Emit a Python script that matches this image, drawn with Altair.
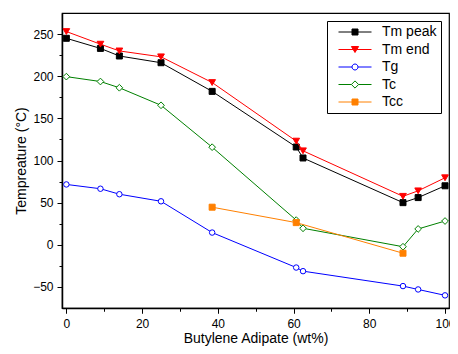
import altair as alt
import pandas as pd

# ---- data ----
series_names = ["Tm peak", "Tm end", "Tg", "Tc", "Tcc"]
x_main = [0, 9, 14, 25, 38.5, 60.7, 62.5, 88.9, 92.9, 100]
tm_peak = [245, 233, 224, 216, 182, 116, 103, 50, 56, 70]
tm_end = [253, 238, 230, 223, 192.5, 123, 111.5, 57.5, 64, 79.5]
tg = [71.6, 66.5, 60, 51.6, 14.5, -27, -31.3, -49, -53, -60]
tc = [199.5, 193.7, 186.3, 165.5, 115.8, 29.3, 19.6, -2.3, 18.8, 28.2]
x_tcc = [38.5, 60.7, 88.9]
tcc = [44.6, 26.3, -10]

x_ticks = [0, 10, 20, 30, 40, 50, 60, 70, 80, 90, 100]
y_ticks = [-50, -25, 0, 25, 50, 75, 100, 125, 150, 175, 200, 225, 250]

# ---- styles ----
colors = ["#000000", "#FF0000", "#0000FF", "#008000", "#FF8000"]
fills = ["#000000", "#FF0000", "#FFFFFF", "#FFFFFF", "#FF8000"]
shapes = ["square", "triangle-down", "circle", "diamond", "square"]
sizes = [36, 45, 30, 45, 36]
legend_paths = [
    "M-5.5,0H-1M1,0H5.5M-1,-1H1V1H-1Z",
    "M-5.5,0H-0.6M0.6,0H5.5M-1.2,-1H1.2L0,1Z",
    "M-5.5,0H-1M1,0H5.5M-1,0A1,1,0,1,0,1,0A1,1,0,1,0,-1,0Z",
    "M-5.5,0H-1.2M1.2,0H5.5M0,-1.2L1.2,0L0,1.2L-1.2,0Z",
    "M-5.5,0H-1M1,0H5.5M-1,-1H1V1H-1Z",
]

rows = []
for name, xs, ys in [
    ("Tm peak", x_main, tm_peak),
    ("Tm end", x_main, tm_end),
    ("Tg", x_main, tg),
    ("Tc", x_main, tc),
    ("Tcc", x_tcc, tcc),
]:
    for xv, yv in zip(xs, ys):
        rows.append({"series": name, "x": xv, "y": yv})
df = pd.DataFrame(rows)

FONT = "Liberation Sans"
W, H = 387, 295

xscale = alt.Scale(domain=[-1.15, 101.05], nice=False, zero=False)
yscale = alt.Scale(domain=[-75, 275], nice=False, zero=False)

x_tick_size = {"condition": {"test": "datum.value % 20 === 0", "value": 5}, "value": 3}
y_tick_size = {"condition": {"test": "datum.value % 50 === 0", "value": 5}, "value": 3}

x_axis_main = alt.Axis(
    values=x_ticks, tickSize=x_tick_size,
    labelExpr="datum.value % 20 === 0 ? datum.label : ''",
    grid=False, domainColor="black", domainWidth=1.5, tickColor="black", tickWidth=1,
    labelFont=FONT, labelFontSize=12, labelColor="black", labelPadding=5,
    labelFlush=False, labelOverlap=False,
    title="Butylene Adipate (wt%)", titleFont=FONT, titleFontSize=14,
    titleFontWeight="normal", titleColor="black", titlePadding=2,
)
y_axis_main = alt.Axis(
    values=y_ticks, tickSize=y_tick_size,
    labelExpr="datum.value % 50 === 0 ? datum.label : ''",
    grid=False, domainColor="black", domainWidth=1.5, tickColor="black", tickWidth=1,
    labelFont=FONT, labelFontSize=12, labelColor="black", labelPadding=4,
    labelFlush=False, labelOverlap=False,
    title="Tempreature (°C)", titleFont=FONT, titleFontSize=14,
    titleFontWeight="normal", titleColor="black", titlePadding=4,
)
x_axis_mirror = alt.Axis(
    orient="bottom", position=0.01, values=x_ticks, tickSize=x_tick_size,
    labels=False, domain=False, grid=False, tickColor="black", tickWidth=1, title=None,
)
y_axis_mirror = alt.Axis(
    orient="left", position=W, values=y_ticks, tickSize=y_tick_size,
    labels=False, domain=False, grid=False, tickColor="black", tickWidth=1, title=None,
)

layers = []
for i, name in enumerate(series_names):
    d = df[df["series"] == name]
    line = alt.Chart(d).mark_line(color=colors[i], strokeWidth=1).encode(
        x=alt.X("x:Q", scale=xscale, axis=x_axis_main if i == 0 else None),
        y=alt.Y("y:Q", scale=yscale, axis=y_axis_main if i == 0 else None),
    )
    pts = alt.Chart(d).mark_point(
        shape=shapes[i], size=sizes[i], fill=fills[i], stroke=colors[i],
        strokeWidth=1, opacity=1, fillOpacity=1, strokeOpacity=1,
    ).encode(
        x=alt.X("x:Q", scale=xscale, axis=None),
        y=alt.Y("y:Q", scale=yscale, axis=None),
    )
    layers += [line, pts]

legend = alt.Legend(
    orient="top-right", offset=8, title=None, padding=4, rowPadding=3.5,
    columnPadding=0,
    symbolSize=36, symbolStrokeWidth=1, symbolOffset=17, labelOffset=20,
    labelFont=FONT, labelFontSize=14, labelColor="black",
    strokeColor="black", fillColor="white", cornerRadius=0,
)

legend_layer = alt.Chart(df).transform_filter("false").mark_point(
    opacity=1, strokeWidth=1
).encode(
    x=alt.X("x:Q", scale=xscale, axis=x_axis_mirror),
    y=alt.Y("y:Q", scale=yscale, axis=y_axis_mirror),
    color=alt.Color("series:N", scale=alt.Scale(domain=series_names, range=colors), legend=legend),
    fill=alt.Fill("series:N", scale=alt.Scale(domain=series_names, range=fills), legend=legend),
    shape=alt.Shape("series:N", scale=alt.Scale(domain=series_names, range=legend_paths), legend=legend),
)

chart = (
    alt.layer(*layers, legend_layer)
    .resolve_axis(x="independent", y="independent")
    .properties(
        width=W, height=H,
        autosize=alt.AutoSizeParams(type="none"),
        padding={"left": 54, "top": 5, "right": 1, "bottom": 38},
        background="white",
    )
    .configure(font=FONT)
    .configure_view(stroke="black", strokeWidth=1.2)
)

chart.save("out.html", embed_options={"renderer": "svg", "actions": False})
